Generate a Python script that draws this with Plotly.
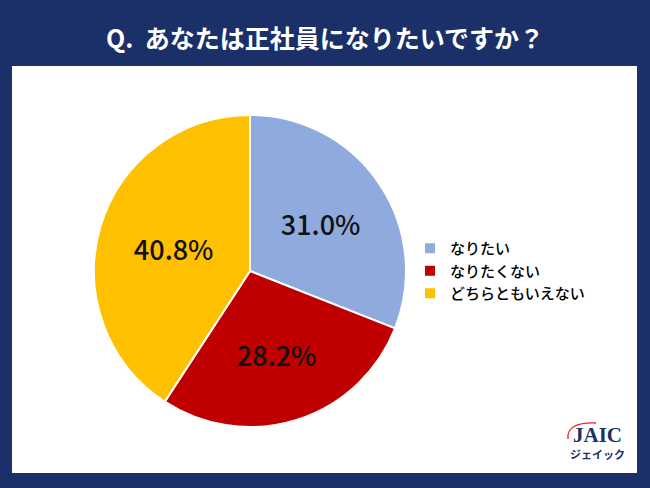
import plotly.graph_objects as go

categories = ["なりたい", "なりたくない", "どちらともいえない"]
values = [31.0, 28.2, 40.8]
colors = ["#8FAADC", "#C00000", "#FFC000"]

W, H = 650, 488
navy = "#1B2F69"
font_family = "Noto Sans CJK JP"

def px(x):
    return x / W

def py(y):
    return 1 - y / H

fig = go.Figure()
fig.add_trace(go.Pie(
    labels=categories,
    values=values,
    marker=dict(colors=colors, line=dict(color="white", width=2)),
    sort=False,
    direction="clockwise",
    rotation=0,
    texttemplate="%{value:.1f}%",
    textposition="inside",
    insidetextorientation="horizontal",
    textfont=dict(size=27, color="#111111", family=font_family, weight=500),
    domain=dict(x=[px(94), px(406)], y=[py(427), py(115)]),
    hoverinfo="label+value",
))

fig.update_layout(
    width=W, height=H,
    margin=dict(l=0, r=0, t=0, b=0),
    paper_bgcolor=navy,
    plot_bgcolor=navy,
    showlegend=True,
    legend=dict(
        x=px(410), y=py(271), xanchor="left", yanchor="middle",
        font=dict(size=15, color="black", family=font_family, weight=500),
        bgcolor="rgba(0,0,0,0)",
        itemwidth=30,
        tracegroupgap=0,
    ),
    shapes=[
        dict(type="rect", xref="paper", yref="paper",
             x0=px(12), x1=px(637), y0=py(473), y1=py(66),
             fillcolor="white", line=dict(width=0), layer="below"),
        dict(type="path", xref="paper", yref="paper",
             path=f"M {px(568)},{py(439)} Q {px(566)},{py(422)} {px(596)},{py(423)}",
             line=dict(color="#E0262A", width=1.3), layer="above"),
    ],
    annotations=[
        dict(text="<b>Q.  あなたは正社員になりたいですか？</b>", x=0.5, y=py(37),
             xref="paper", yref="paper", showarrow=False,
             xanchor="center", yanchor="middle",
             font=dict(size=25, color="white", family=font_family)),
        dict(text="<b>JAIC</b>", x=px(597), y=py(435), xref="paper", yref="paper",
             showarrow=False, xanchor="center", yanchor="middle",
             font=dict(size=21, color=navy, family="Liberation Serif")),
        dict(text="<b>ジェイック</b>", x=px(597), y=py(454), xref="paper", yref="paper",
             showarrow=False, xanchor="center", yanchor="middle",
             font=dict(size=11, color=navy, family=font_family)),
    ],
)

fig.write_html("out.html", config={"displayModeBar": False},
               post_script="document.body.style.margin='0';document.body.style.overflow='hidden';")
